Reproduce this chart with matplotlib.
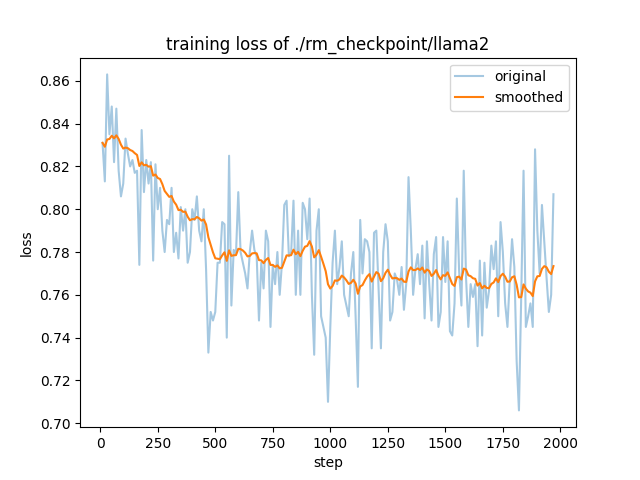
import math
import matplotlib
matplotlib.use("Agg")
import matplotlib.pyplot as plt

loss = [
0.831,0.813,0.863,0.835,0.848,0.822,0.847,0.818,0.806,0.812,
0.833,0.826,0.820,0.823,0.817,0.818,0.774,0.837,0.808,0.823,
0.812,0.822,0.776,0.821,0.800,0.810,0.790,0.780,0.795,0.793,
0.810,0.780,0.789,0.777,0.801,0.790,0.800,0.775,0.780,0.800,
0.795,0.806,0.790,0.785,0.800,0.772,0.733,0.752,0.748,0.752,
0.775,0.775,0.794,0.793,0.740,0.825,0.755,0.781,0.779,0.808,
0.780,0.775,0.770,0.763,0.780,0.790,0.781,0.778,0.748,0.775,
0.763,0.790,0.785,0.745,0.774,0.765,0.780,0.760,0.775,0.802,
0.804,0.778,0.780,0.804,0.760,0.790,0.760,0.803,0.800,0.786,
0.805,0.760,0.732,0.790,0.800,0.750,0.745,0.740,0.710,0.745,
0.775,0.790,0.765,0.773,0.785,0.760,0.755,0.750,0.770,0.780,
0.750,0.717,0.795,0.770,0.786,0.785,0.780,0.735,0.789,0.790,
0.763,0.735,0.780,0.793,0.785,0.748,0.752,0.770,0.767,0.760,
0.773,0.753,0.765,0.815,0.790,0.760,0.772,0.779,0.765,0.783,
0.749,0.785,0.765,0.748,0.779,0.787,0.745,0.752,0.787,0.766,
0.785,0.743,0.741,0.756,0.805,0.771,0.755,0.818,0.768,0.745,
0.765,0.759,0.765,0.736,0.776,0.741,0.775,0.754,0.762,0.783,
0.772,0.785,0.750,0.794,0.780,0.756,0.745,0.767,0.786,0.773,
0.729,0.706,0.760,0.818,0.745,0.750,0.756,0.745,0.828,0.790,
0.770,0.802,0.785,0.768,0.752,0.760,0.807,
]
steps = [10 * (i + 1) for i in range(len(loss))]

def smooth(scalars):
    weight = 1.8 * (1 / (1 + math.exp(-0.05 * len(scalars))) - 0.5)
    last = scalars[0]
    out = []
    for v in scalars:
        last = last * weight + (1 - weight) * v
        out.append(last)
    return out

plt.figure(figsize=(6.4, 4.8), dpi=100)
plt.plot(steps, loss, color="#1f77b4", alpha=0.4, label="original")
plt.plot(steps, smooth(loss), color="#ff7f0e", label="smoothed")
plt.title("training loss of ./rm_checkpoint/llama2")
plt.xlabel("step")
plt.ylabel("loss")
plt.legend(loc="upper right")
plt.savefig("out.png", dpi=100)
